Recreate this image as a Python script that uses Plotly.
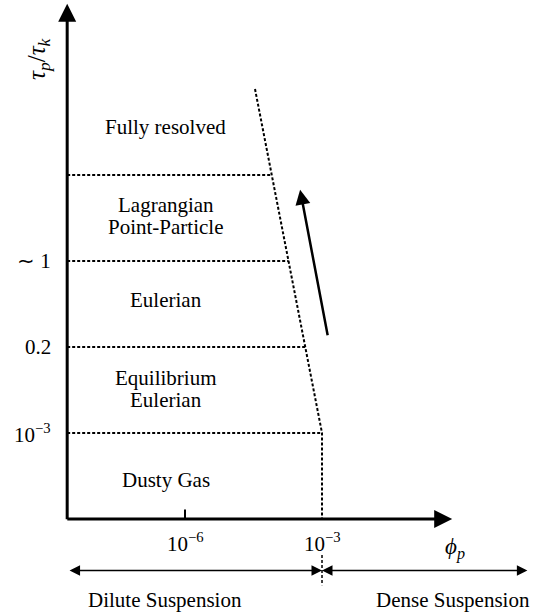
import plotly.graph_objects as go

# ---- data (x: log10(phi_p), y: regime level) ----
x_tick_vals = [-6, -3]
x_tick_text = ["10<sup>−6</sup>", "10<sup>−3</sup>"]
y_tick_levels = [1, 2, 3]
y_tick_text = ["10<sup>−3</sup>", "0.2", "∼ 1"]

boundary_levels = [1, 2, 3, 4, 5]
boundary_phi = [-3.0, -3.367, -3.733, -4.10, -4.467]

region_names = [["Dusty Gas"], ["Equilibrium", "Eulerian"], ["Eulerian"],
                ["Lagrangian", "Point-Particle"], ["Fully resolved"]]
region_levels = [0.45, 1.51, 2.55, 3.52, 4.56]
region_phi = -6.42

dilute_label = "Dilute Suspension"
dense_label = "Dense Suspension"

X_ORIGIN, X_END = -8.58, -0.15
Y_ORIGIN, Y_END = 0.0, 5.99
X_RANGE = [-10.051, 1.620]
Y_RANGE = [-1.093, 6.035]
LINE_GAP = 0.128  # half of line spacing in level units

FONT = "Liberation Serif, Times New Roman, serif"
fig = go.Figure()

dash = dict(color="black", width=2, dash="3px,2px")
# dotted horizontal boundaries
for lvl, xb in zip(boundary_levels[:-1], boundary_phi[:-1]):
    fig.add_trace(go.Scatter(x=[X_ORIGIN, xb], y=[lvl, lvl], mode="lines",
                             line=dash, hoverinfo="skip", showlegend=False))
# slanted boundary + vertical to axis
fig.add_trace(go.Scatter(x=boundary_phi[::-1] + [boundary_phi[0]],
                         y=boundary_levels[::-1] + [Y_ORIGIN],
                         mode="lines", line=dash,
                         hoverinfo="skip", showlegend=False))
# dashed separator below axis
fig.add_trace(go.Scatter(x=[boundary_phi[0], boundary_phi[0]], y=[-0.42, -0.77],
                         mode="lines",
                         line=dict(color="black", width=1.5, dash="3px,2px"),
                         hoverinfo="skip", showlegend=False))

# axes with arrows
fig.add_annotation(x=X_ORIGIN, y=Y_END, ax=X_ORIGIN, ay=Y_ORIGIN - 0.02,
                   xref="x", yref="y", axref="x", ayref="y", text="",
                   showarrow=True, arrowhead=2, arrowsize=1.2, arrowwidth=3,
                   arrowcolor="black")
fig.add_annotation(x=X_END, y=Y_ORIGIN, ax=X_ORIGIN - 0.03, ay=Y_ORIGIN,
                   xref="x", yref="y", axref="x", ayref="y", text="",
                   showarrow=True, arrowhead=2, arrowsize=1.2, arrowwidth=3,
                   arrowcolor="black")
# x tick at 1e-6
fig.add_trace(go.Scatter(x=[x_tick_vals[0], x_tick_vals[0]], y=[0, 0.11], mode="lines",
                         line=dict(color="black", width=2),
                         hoverinfo="skip", showlegend=False))

# trend arrow
fig.add_annotation(x=-3.48, y=3.83, ax=-2.87, ay=2.12,
                   xref="x", yref="y", axref="x", ayref="y", text="",
                   showarrow=True, arrowhead=2, arrowsize=1.2, arrowwidth=2.5,
                   arrowcolor="black")

# suspension arrows
fig.add_annotation(x=boundary_phi[0], y=-0.6, ax=X_ORIGIN + 0.02, ay=-0.6,
                   xref="x", yref="y", axref="x", ayref="y", text="",
                   showarrow=True, arrowhead=2, startarrowhead=2,
                   arrowside="end+start", arrowsize=1.4, arrowwidth=1.5,
                   arrowcolor="black")
fig.add_annotation(x=boundary_phi[0], y=-0.6, ax=1.53, ay=-0.6,
                   xref="x", yref="y", axref="x", ayref="y", text="",
                   showarrow=True, arrowhead=2, startarrowhead=2,
                   arrowside="end+start", arrowsize=1.4, arrowwidth=1.5,
                   arrowcolor="black")

tfont = dict(family=FONT, size=21, color="black")
# region labels
for lines, lvl in zip(region_names, region_levels):
    n = len(lines)
    for i, line in enumerate(lines):
        yy = lvl + LINE_GAP * (n - 1) - 2 * LINE_GAP * i
        fig.add_annotation(x=region_phi, y=yy, text=line, showarrow=False,
                           font=tfont, xref="x", yref="y")
# tick labels
for v, t in zip(x_tick_vals, x_tick_text):
    fig.add_annotation(x=v, y=-0.27, text=t, showarrow=False, font=tfont)
for v, t in zip(y_tick_levels, y_tick_text):
    fig.add_annotation(x=-8.88, y=v, text=t, showarrow=False, font=tfont,
                       xanchor="right")
# axis titles
fig.add_annotation(x=-9.22, y=5.36, text="<i>τ<sub>p</sub></i>/<i>τ<sub>k</sub></i>",
                   showarrow=False, font=dict(family=FONT, size=25, color="black"),
                   textangle=-90)
fig.add_annotation(x=-0.09, y=-0.34, text="<i>ϕ<sub>p</sub></i>", showarrow=False,
                   font=dict(family=FONT, size=23, color="black"))
fig.add_annotation(x=-6.44, y=-0.94, text=dilute_label, showarrow=False, font=tfont)
fig.add_annotation(x=1.59, y=-0.94, text=dense_label, showarrow=False, font=tfont,
                   xanchor="right")

fig.update_xaxes(range=X_RANGE, visible=False, fixedrange=True)
fig.update_yaxes(range=Y_RANGE, visible=False, fixedrange=True)
fig.update_layout(width=533, height=613, margin=dict(l=0, r=0, t=0, b=0),
                  plot_bgcolor="white", paper_bgcolor="white",
                  showlegend=False)
fig.write_html("out.html", config={"displayModeBar": False})

with open("out.html", "r", encoding="utf-8") as f:
    html = f.read()
html = html.replace("<head>", "<head><style>html,body{margin:0;padding:0;overflow:hidden;}</style>", 1)
with open("out.html", "w", encoding="utf-8") as f:
    f.write(html)
